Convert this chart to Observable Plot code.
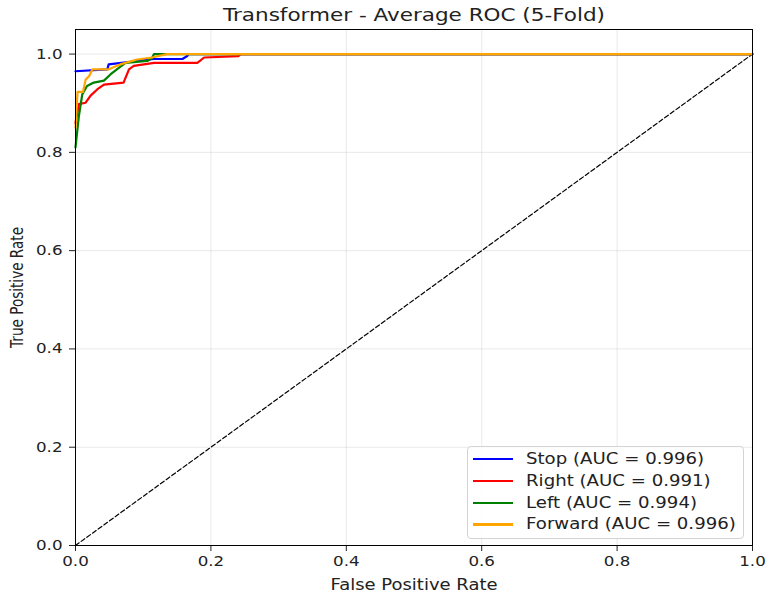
<!DOCTYPE html>
<html><head><meta charset="utf-8">
<script src="https://cdn.jsdelivr.net/npm/d3@7"></script>
<script src="https://cdn.jsdelivr.net/npm/@observablehq/plot@0.6"></script>
<style>
body{margin:0;background:#fff;font-family:"DejaVu Sans",sans-serif;}
#wrap{position:relative;width:773px;height:595px;}
#legend{position:absolute;left:467px;top:446px;width:277px;height:93px;border:1px solid #d3d3d3;border-radius:4px;background:rgba(255,255,255,0.85);box-sizing:border-box;padding:1.5px 0 0 5px;font-size:15.5px;color:#222;}
#legend .row{display:flex;align-items:center;height:21.7px;white-space:nowrap;}
#legend .sw{width:40px;height:2.2px;margin-right:13px;flex:none;}
#legend span{display:inline-block;transform:scaleX(1.17);transform-origin:left center;}
</style></head><body>
<div id="wrap"></div>
<script>
const classes = ["Stop","Right","Left","Forward"];
const colors = ["blue","red","green","orange"];
const aucs = [0.996, 0.991, 0.994, 0.996];
const stopFpr = [0,0.047,0.049,0.116,0.158,0.165,0.167,1];
const stopTpr = [0.965,0.969,0.979,0.99,0.99,0.996,1.0,1];
const rightFpr = [0,0.005,0.015,0.022,0.032,0.042,0.071,0.079,0.086,0.116,0.18,0.19,0.241,0.244,1];
const rightTpr = [0.86,0.898,0.901,0.915,0.928,0.938,0.942,0.969,0.976,0.982,0.982,0.993,0.996,1.0,1];
const leftFpr = [0,0.005,0.01,0.017,0.027,0.042,0.052,0.064,0.074,0.106,0.113,0.116,1];
const leftTpr = [0.81,0.874,0.918,0.935,0.942,0.946,0.959,0.972,0.982,0.986,0.992,1.0,1];
const fwdFpr = [0,0.003,0.011,0.015,0.02,0.025,0.049,0.066,0.091,0.113,0.135,1];
const fwdTpr = [0.85,0.923,0.923,0.948,0.955,0.969,0.969,0.979,0.989,0.993,1.0,1];
const ticks = [0,0.2,0.4,0.6,0.8,1.0];
const diag = [0,1];

const fprs = [stopFpr,rightFpr,leftFpr,fwdFpr];
const tprs = [stopTpr,rightTpr,leftTpr,fwdTpr];
const rows = [];
classes.forEach((c,i)=>fprs[i].forEach((f,j)=>rows.push({cls:c,fpr:f,tpr:tprs[i][j]})));

const plot = Plot.plot({
  width:773, height:595,
  marginLeft:75, marginRight:21, marginTop:29, marginBottom:50,
  style:{fontFamily:"DejaVu Sans, sans-serif", fontSize:"14px", color:"#222"},
  x:{domain:[0,1]},
  y:{domain:[0,1.05]},
  color:{domain:classes, range:colors},
  marks:[
    Plot.gridX(ticks,{stroke:"#b0b0b0",strokeOpacity:0.35,strokeWidth:0.8}),
    Plot.gridY(ticks,{stroke:"#b0b0b0",strokeOpacity:0.35,strokeWidth:0.8}),
    Plot.axisX({ticks, tickFormat:d3.format(".1f"), tickSize:6, tickPadding:5, label:"False Positive Rate", labelAnchor:"center", labelArrow:"none", labelOffset:44, fontSize:14}),
    Plot.axisY({ticks, tickFormat:d3.format(".1f"), tickSize:6, tickPadding:7, label:"True Positive Rate", labelAnchor:"center", labelArrow:"none", labelOffset:65, fontSize:14}),
    Plot.line(diag.map(d=>({v:d})),{x:"v",y:"v",stroke:"black",strokeWidth:1.2,strokeDasharray:"4.5,2.5"}),
    Plot.line(rows,{x:"fpr",y:"tpr",z:"cls",stroke:"cls",strokeWidth:2.2,curve:"linear"}),
    Plot.frame({stroke:"black",strokeWidth:1}),
    Plot.text(["Transformer - Average ROC (5-Fold)"],{frameAnchor:"top",lineAnchor:"middle",dy:-14,fontSize:18.4,fill:"#222"})
  ]
});
const wrap = document.getElementById("wrap");
wrap.appendChild(plot);
const svg = d3.select(plot.tagName.toLowerCase()==="svg" ? plot : plot.querySelector("svg"));
const fit = (sel, len, size) => sel.attr("font-size", size).attr("textLength", len).attr("lengthAdjust","spacingAndGlyphs");
fit(svg.selectAll('g[aria-label="x-axis tick label"] text'), 26.5, 14);
fit(svg.selectAll('g[aria-label="y-axis tick label"] text'), 26.5, 14);
fit(svg.selectAll('g[aria-label="x-axis label"] text'), 167, 15.5);
fit(svg.selectAll('g[aria-label="y-axis label"] text'), 121, 18);
fit(svg.selectAll("text").filter(function(){return this.textContent.startsWith("Transformer");}), 382, 18.4);

const lg = document.createElement("div");
lg.id="legend";
classes.forEach((c,i)=>{
  const r=document.createElement("div");r.className="row";
  r.innerHTML=`<div class="sw" style="background:${colors[i]}"></div><span>${c} (AUC = ${aucs[i].toFixed(3)})</span>`;
  lg.appendChild(r);
});
wrap.appendChild(lg);
</script>
</body></html>
